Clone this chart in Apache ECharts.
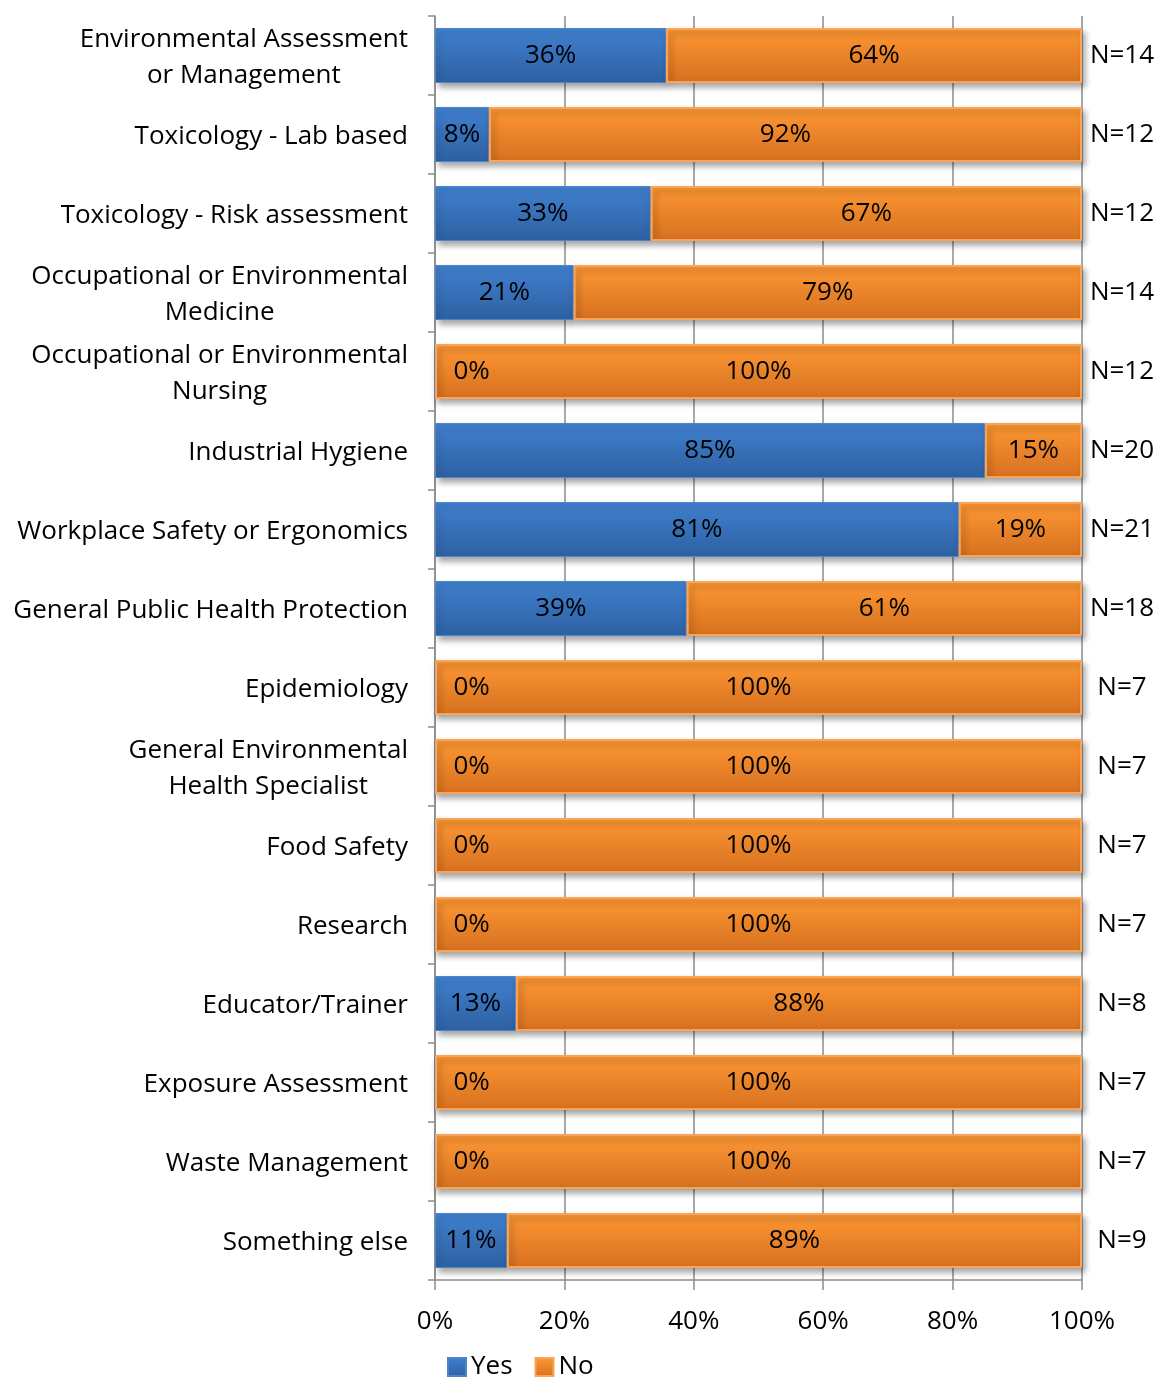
<!DOCTYPE html>
<html>
<head>
<meta charset="utf-8">
<script src="https://cdn.jsdelivr.net/npm/echarts@6/dist/echarts.min.js"></script>
<style>html,body{margin:0;padding:0;background:#fff;}#c{width:1161px;height:1381px;}</style>
</head>
<body>
<div id="c"></div>
<script>
// Categories, top to bottom
var categories = [
  "Environmental Assessment\nor Management",
  "Toxicology - Lab based",
  "Toxicology - Risk assessment",
  "Occupational or Environmental\nMedicine",
  "Occupational or Environmental\nNursing",
  "Industrial Hygiene",
  "Workplace Safety or Ergonomics",
  "General Public Health Protection",
  "Epidemiology",
  "General Environmental\nHealth Specialist",
  "Food Safety",
  "Research",
  "Educator/Trainer",
  "Exposure Assessment",
  "Waste Management",
  "Something else"
];
// Respondents answering "Yes" and total respondents (N) per category
var yesCounts = [5, 1, 4, 3, 0, 17, 17, 7, 0, 0, 0, 0, 1, 0, 0, 1];
var nTotals   = [14, 12, 12, 14, 12, 20, 21, 18, 7, 7, 7, 7, 8, 7, 7, 9];
var xTickLabels = ["0%", "20%", "40%", "60%", "80%", "100%"];

var yesPct = yesCounts.map(function (y, i) { return y / nTotals[i] * 100; });
var noPct = yesCounts.map(function (y, i) { return (nTotals[i] - y) / nTotals[i] * 100; });
var nLabels = nTotals.map(function (n) { return "N=" + n; });

var FONT = "Open Sans";
var FS = 26;
var blueGrad = new echarts.graphic.LinearGradient(0, 0, 0, 1, [
  { offset: 0, color: "#4080cf" }, { offset: 1, color: "#2e60a2" }]);
var orangeGrad = new echarts.graphic.LinearGradient(0, 0, 0, 1, [
  { offset: 0, color: "#fe9834" }, { offset: 1, color: "#d6701f" }]);
var shadow = { shadowColor: "rgba(0,0,0,0.35)", shadowBlur: 6, shadowOffsetX: 3, shadowOffsetY: 4 };

var chart = echarts.init(document.getElementById("c"), null, { renderer: "canvas" });
chart.setOption({
  animation: false,
  backgroundColor: "#fff",
  textStyle: { fontFamily: FONT },
  grid: { left: 435, right: 79, top: 16, bottom: 101 },
  legend: {
    data: ["Yes", "No"],
    left: 442, top: 1349,
    itemWidth: 18, itemHeight: 18, itemGap: 22,
    icon: "rect",
    textStyle: { fontFamily: FONT, fontSize: FS, color: "#000" }
  },
  xAxis: {
    type: "value", min: 0, max: 100, interval: 20,
    axisLine: { show: true, lineStyle: { color: "#8c8c8c", width: 1.5 } },
    axisTick: { show: true, length: 10, lineStyle: { color: "#8c8c8c", width: 1.5 } },
    splitLine: { show: true, lineStyle: { color: "#8c8c8c", width: 1.5 } },
    axisLabel: {
      margin: 29, fontFamily: FONT, fontSize: FS, color: "#000",
      formatter: function (v) { return xTickLabels[Math.round(v / 20)]; }
    }
  },
  yAxis: [{
    type: "category", data: categories, inverse: true,
    axisLine: { show: true, lineStyle: { color: "#8c8c8c", width: 1.5 } },
    axisTick: { show: true, length: 7, lineStyle: { color: "#8c8c8c", width: 1.5 } },
    axisLabel: {
      margin: 27, fontFamily: FONT, fontSize: FS, color: "#000", lineHeight: 36, align: "right",
      padding: [4, 0, 0, 0],
      formatter: function (v) {
        return v.split("\n").map(function (s) { return "{c|" + s + "}"; }).join("\n");
      },
      rich: { c: { align: "center", fontFamily: FONT, fontSize: FS, color: "#000", lineHeight: 36 } }
    }
  }, {
    type: "category", data: nLabels, inverse: true, position: "right",
    axisLine: { show: false }, axisTick: { show: false },
    axisLabel: { margin: 40, align: "center", fontFamily: FONT, fontSize: FS, color: "#000", padding: [4, 0, 0, 0] }
  }],
  series: [{
    name: "Yes", type: "bar", stack: "t", barWidth: 55,
    itemStyle: Object.assign({ color: blueGrad, borderColor: "#4a86cf", borderWidth: 1 }, shadow),
    label: {
      show: true, position: "inside", fontFamily: FONT, fontSize: FS, color: "#000",
      padding: [5, 0, 0, 0],
      formatter: function (p) { return Math.round(p.value) + "%"; }
    },
    data: yesPct.map(function (v) {
      if (v === 0) {
        return { value: v, label: { position: "right", distance: 18 } };
      }
      return v;
    })
  }, {
    name: "No", type: "bar", stack: "t", barWidth: 55,
    itemStyle: Object.assign({ color: orangeGrad, borderColor: "#f9a457", borderWidth: 2 }, shadow),
    label: {
      show: true, position: "inside", fontFamily: FONT, fontSize: FS, color: "#000",
      padding: [5, 0, 0, 0],
      formatter: function (p) { return Math.round(p.value) + "%"; }
    },
    data: noPct
  }],
  color: ["#3a74c0", "#f38a2c"]
});
</script>
</body>
</html>
